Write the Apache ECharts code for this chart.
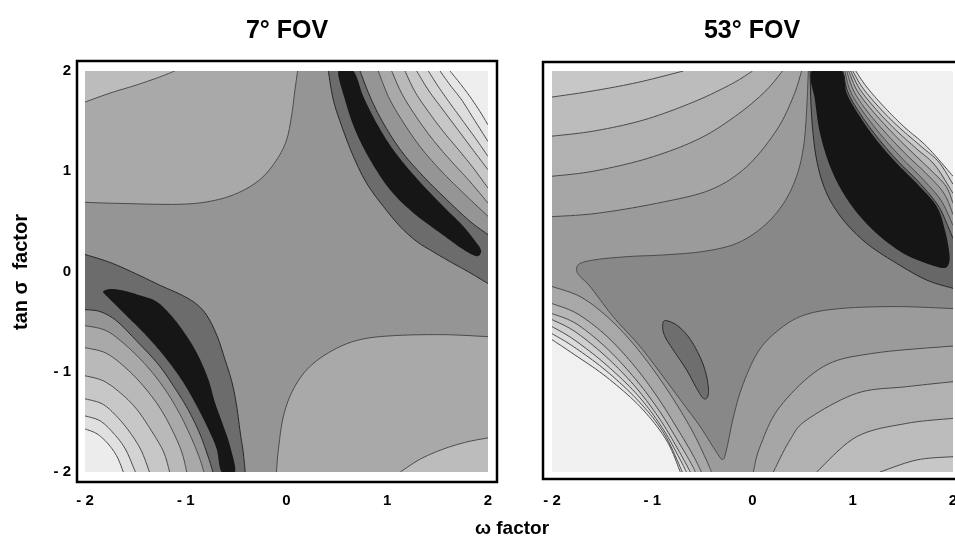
<!DOCTYPE html>
<html>
<head>
<meta charset="utf-8">
<title>7° / 53° FOV contours</title>
<script src="https://cdn.jsdelivr.net/npm/echarts@6/dist/echarts.min.js"></script>
<style>
    html, body { margin: 0; padding: 0; background: #fff; }
    #chart { width: 955px; height: 547px; }
</style>
</head>
<body>
<div id="chart"></div>
<script>
// axis ticks
var tickValues = [-2, -1, 0, 1, 2];
var tickText = ['- 2', '- 1', '0', '1', '2'];

// ---- 7° FOV: contour lines, points are [ω factor, tan σ factor]
var s7TopLeft1 = [[-2,0.69],[-1.69,0.68],[-1.09,0.67],[-0.76,0.70],[-0.49,0.78],[-0.26,0.92],[-0.10,1.11],[0.0,1.31],[0.05,1.55],[0.08,1.78],[0.11,2]];
var s7TopLeft2 = [[-2,1.69],[-1.75,1.78],[-1.49,1.86],[-1.26,1.94],[-1.11,2]];
var s7BotRight1 = [[-0.10,-2],[-0.08,-1.77],[-0.03,-1.44],[0.07,-1.17],[0.23,-0.95],[0.47,-0.78],[0.73,-0.68],[1.06,-0.64],[1.56,-0.63],[2,-0.65]];
var s7BotRight2 = [[1.13,-2],[1.33,-1.87],[1.56,-1.77],[1.79,-1.70],[2,-1.66]];
// upper right valley
var s7TrOuter = [[0.415,2],[0.465,1.71],[0.548,1.45],[0.663,1.15],[0.796,0.88],[0.961,0.65],[1.127,0.45],[1.292,0.30],[1.45,0.20],[1.62,0.10],[1.80,0.0],[2,-0.12]];
var s7TrInner = [[0.73,2],[0.829,1.745],[0.961,1.48],[1.143,1.197],[1.358,0.949],[1.59,0.717],[1.821,0.501],[2,0.368]];
var s7TrCore = [[0.515,2],[0.581,1.711],[0.68,1.413],[0.829,1.114],[1.027,0.816],[1.259,0.584],[1.524,0.385],[1.755,0.219],[1.887,0.153],[1.93,0.19],[1.921,0.235],[1.887,0.285],[1.755,0.451],[1.524,0.683],[1.275,0.949],[1.06,1.214],[0.895,1.48],[0.763,1.745],[0.663,2]];
var s7Tr1 = [[0.911,2],[1.011,1.745],[1.143,1.513],[1.325,1.247],[1.524,1.015],[1.755,0.783],[2,0.551]];
var s7Tr2 = [[1.044,2],[1.143,1.778],[1.275,1.562],[1.441,1.33],[1.623,1.114],[1.805,0.915],[2,0.683]];
var s7Tr3 = [[1.176,2],[1.275,1.794],[1.408,1.595],[1.557,1.396],[1.722,1.197],[1.854,1.032],[2,0.833]];
var s7Tr4 = [[1.292,2],[1.408,1.81],[1.54,1.63],[1.689,1.43],[1.838,1.23],[2,1.015]];
var s7Tr5 = [[1.408,2],[1.507,1.844],[1.623,1.678],[1.755,1.496],[1.887,1.313],[2,1.148]];
var s7Tr6 = [[1.524,2],[1.623,1.861],[1.739,1.711],[1.854,1.529],[2,1.297]];
var s7Tr7 = [[1.623,2],[1.722,1.877],[1.821,1.745],[1.921,1.595],[2,1.463]];
// lower left valley
var s7BlOuter = [[-2,0.17],[-1.75,0.09],[-1.5,-0.02],[-1.25,-0.14],[-1.05,-0.23],[-0.9,-0.32],[-0.79,-0.44],[-0.69,-0.64],[-0.61,-0.88],[-0.54,-1.11],[-0.495,-1.34],[-0.46,-1.6],[-0.43,-1.8],[-0.41,-2]];
var s7BlInner = [[-2,-0.38],[-1.85,-0.40],[-1.69,-0.49],[-1.49,-0.69],[-1.27,-0.93],[-1.11,-1.16],[-0.97,-1.39],[-0.86,-1.62],[-0.78,-1.84],[-0.73,-2]];
var s7BlCore = [[-1.82,-0.20],[-1.78,-0.25],[-1.72,-0.31],[-1.586,-0.444],[-1.388,-0.643],[-1.189,-0.876],[-1.024,-1.108],[-0.892,-1.34],[-0.776,-1.572],[-0.693,-1.771],[-0.644,-2],[-0.511,-2],[-0.561,-1.738],[-0.627,-1.539],[-0.71,-1.307],[-0.776,-1.075],[-0.875,-0.842],[-0.991,-0.643],[-1.14,-0.444],[-1.29,-0.30],[-1.45,-0.24],[-1.62,-0.19],[-1.75,-0.175]];
var s7Bl1 = [[-2,-0.54],[-1.79,-0.59],[-1.59,-0.74],[-1.39,-0.94],[-1.21,-1.17],[-1.06,-1.42],[-0.94,-1.67],[-0.86,-1.87],[-0.82,-2]];
var s7Bl2 = [[-2,-0.76],[-1.80,-0.81],[-1.62,-0.94],[-1.44,-1.12],[-1.27,-1.34],[-1.14,-1.57],[-1.04,-1.80],[-0.99,-2]];
var s7Bl3 = [[-2,-1.04],[-1.82,-1.09],[-1.65,-1.21],[-1.49,-1.37],[-1.34,-1.59],[-1.22,-1.80],[-1.16,-2]];
var s7Bl4 = [[-2,-1.27],[-1.83,-1.32],[-1.69,-1.44],[-1.55,-1.61],[-1.44,-1.79],[-1.36,-2]];
var s7Bl5 = [[-2,-1.44],[-1.85,-1.49],[-1.72,-1.61],[-1.60,-1.77],[-1.50,-2]];
var s7Bl6 = [[-2,-1.57],[-1.88,-1.62],[-1.77,-1.72],[-1.68,-1.85],[-1.62,-2]];

// ---- 53° FOV
var s53TopLeft1 = [[-2,1.74],[-1.6,1.80],[-1.15,1.885],[-0.69,2]];
var s53TopLeft2 = [[-2,1.35],[-1.59,1.40],[-1.09,1.51],[-0.59,1.69],[-0.21,1.87],[0.0,2]];
var s53TopLeft3 = [[-2,0.95],[-1.59,1.0],[-1.04,1.13],[-0.54,1.32],[-0.17,1.55],[0.12,1.79],[0.30,2]];
var s53TopLeft4 = [[-2,0.547],[-1.554,0.58],[-0.956,0.68],[-0.424,0.813],[-0.058,1.046],[0.241,1.411],[0.407,1.744],[0.49,2]];
var s53Star = [[2,-0.37],[1.44,-0.35],[0.87,-0.37],[0.50,-0.44],[0.24,-0.60],[0.05,-0.81],[-0.10,-1.14],[-0.19,-1.45],[-0.26,-1.78],[-0.30,-1.875],[-0.38,-1.77],[-0.52,-1.55],[-0.69,-1.32],[-0.89,-1.05],[-1.12,-0.75],[-1.39,-0.45],[-1.62,-0.15],[-1.72,-0.05],[-1.755,0.015],[-1.72,0.08],[-1.55,0.12],[-1.22,0.15],[-0.89,0.165],[-0.49,0.20],[-0.16,0.28],[0.11,0.45],[0.31,0.68],[0.44,0.95],[0.51,1.25],[0.54,1.61],[0.557,2]];
var s53BandOuter = [[0.574,2],[0.59,1.545],[0.64,1.112],[0.74,0.78],[0.906,0.514],[1.139,0.281],[1.438,0.081],[1.737,-0.085],[2,-0.168]];
var s53BandInner = [[0.90,2],[0.955,1.78],[1.09,1.55],[1.26,1.32],[1.46,1.09],[1.66,0.89],[1.85,0.66],[1.95,0.45],[2,0.33]];
var s53Core = [[0.59,2],[0.623,1.71],[0.673,1.38],[0.773,1.05],[0.906,0.78],[1.072,0.55],[1.272,0.35],[1.505,0.18],[1.737,0.08],[1.90,0.035],[1.955,0.07],[1.964,0.18],[1.92,0.41],[1.837,0.65],[1.638,0.88],[1.438,1.08],[1.239,1.31],[1.072,1.545],[0.939,1.78],[0.889,2]];
var s53Island = [[-0.873,-0.49],[-0.757,-0.534],[-0.64,-0.65],[-0.541,-0.816],[-0.474,-0.983],[-0.441,-1.149],[-0.447,-1.249],[-0.491,-1.265],[-0.557,-1.166],[-0.657,-0.983],[-0.79,-0.783],[-0.873,-0.65],[-0.896,-0.55]];
var s53Tr1 = [[0.92,2],[0.98,1.79],[1.12,1.57],[1.30,1.34],[1.50,1.12],[1.70,0.92],[1.88,0.71],[2,0.46]];
var s53Tr2 = [[0.94,2],[1.01,1.80],[1.15,1.59],[1.34,1.37],[1.54,1.16],[1.74,0.97],[1.91,0.78],[2,0.57]];
var s53Tr3 = [[0.96,2],[1.04,1.81],[1.19,1.61],[1.38,1.40],[1.58,1.20],[1.78,1.01],[1.93,0.85],[2,0.68]];
var s53Tr4 = [[0.98,2],[1.07,1.82],[1.23,1.62],[1.42,1.42],[1.63,1.23],[1.82,1.06],[2,0.78]];
var s53Tr5 = [[1.00,2],[1.10,1.83],[1.27,1.63],[1.46,1.44],[1.68,1.25],[1.86,1.09],[2,0.87]];
var s53TrWhite = [[1.03,2],[1.14,1.84],[1.31,1.645],[1.51,1.445],[1.74,1.245],[2,0.95]];
var s53Bl1 = [[-2,-0.15],[-1.72,-0.25],[-1.45,-0.45],[-1.19,-0.72],[-0.96,-1.02],[-0.76,-1.32],[-0.59,-1.61],[-0.46,-1.88],[-0.41,-2]];
var s53Bl2 = [[-2,-0.32],[-1.75,-0.42],[-1.46,-0.64],[-1.18,-0.94],[-0.95,-1.25],[-0.76,-1.55],[-0.60,-1.82],[-0.51,-2]];
var s53Bl3 = [[-2,-0.42],[-1.76,-0.52],[-1.46,-0.76],[-1.17,-1.07],[-0.93,-1.39],[-0.75,-1.68],[-0.62,-1.90],[-0.57,-2]];
var s53Bl4 = [[-2,-0.48],[-1.77,-0.60],[-1.46,-0.85],[-1.16,-1.16],[-0.92,-1.48],[-0.74,-1.78],[-0.62,-2]];
var s53Bl5 = [[-2,-0.55],[-1.78,-0.68],[-1.46,-0.93],[-1.14,-1.24],[-0.90,-1.56],[-0.73,-1.86],[-0.66,-2]];
var s53Bl6 = [[-2,-0.62],[-1.785,-0.75],[-1.46,-0.99],[-1.13,-1.30],[-0.88,-1.62],[-0.70,-2]];
var s53BlWhite = [[-2,-0.68],[-1.79,-0.82],[-1.46,-1.05],[-1.12,-1.35],[-0.86,-1.68],[-0.72,-2]];
var s53BotRight1 = [[0.008,-2],[0.075,-1.747],[0.274,-1.348],[0.706,-0.949],[1.205,-0.816],[2,-0.743]];
var s53BotRight2 = [[0.208,-2],[0.374,-1.68],[0.54,-1.481],[1.039,-1.215],[1.538,-1.149],[2,-1.099]];
var s53BotRight3 = [[0.64,-2],[1.039,-1.648],[1.538,-1.515],[2,-1.465]];
var s53BotRight4 = [[1.272,-2],[1.638,-1.88],[2,-1.847]];

// ---- drawing layers (painted in order)
var TL = [-2, 2], TR = [2, 2], BL = [-2, -2], BR = [2, -2];
var LINE = '#4a4a4a', DARK = '#262626';

function corner(a, c, color) { return {kind: 'corner', a: a, corner: c, color: color}; }
function band(a, b, color) { return {kind: 'band', a: a, b: b, color: color}; }
function loop(a, color) { return {kind: 'loop', a: a, color: color}; }
function stroke(a, color, closed) { return {kind: 'stroke', a: a, color: color, closed: !!closed}; }

var layers7 = [
    corner(s7TopLeft1, TL, '#a9a9a9'), corner(s7TopLeft2, TL, '#bcbcbc'),
    corner(s7BotRight1, BR, '#a9a9a9'), corner(s7BotRight2, BR, '#bcbcbc'),
    band(s7TrOuter, s7TrInner, '#6c6c6c'),
    corner(s7Tr1, TR, '#a9a9a9'), corner(s7Tr2, TR, '#b9b9b9'), corner(s7Tr3, TR, '#c7c7c7'),
    corner(s7Tr4, TR, '#d3d3d3'), corner(s7Tr5, TR, '#dddddd'), corner(s7Tr6, TR, '#e6e6e6'), corner(s7Tr7, TR, '#eeeeee'),
    loop(s7TrCore, '#161616'),
    band(s7BlOuter, s7BlInner, '#6c6c6c'),
    corner(s7Bl1, BL, '#a9a9a9'), corner(s7Bl2, BL, '#b9b9b9'), corner(s7Bl3, BL, '#c7c7c7'),
    corner(s7Bl4, BL, '#d3d3d3'), corner(s7Bl5, BL, '#e0e0e0'), corner(s7Bl6, BL, '#ececec'),
    loop(s7BlCore, '#161616')
];
[s7TopLeft1, s7TopLeft2, s7BotRight1, s7BotRight2, s7Tr1, s7Tr2, s7Tr3, s7Tr4, s7Tr5, s7Tr6, s7Tr7,
 s7Bl1, s7Bl2, s7Bl3, s7Bl4, s7Bl5, s7Bl6].forEach(function (l) { layers7.push(stroke(l, LINE)); });
[s7TrOuter, s7TrInner, s7BlOuter, s7BlInner].forEach(function (l) { layers7.push(stroke(l, DARK)); });

var layers53 = [
    corner(s53TopLeft4, TL, '#a6a6a6'), corner(s53TopLeft3, TL, '#b1b1b1'),
    corner(s53TopLeft2, TL, '#bcbcbc'), corner(s53TopLeft1, TL, '#c7c7c7'),
    corner(s53Bl1, BL, '#a8a8a8'), corner(s53Bl2, BL, '#b5b5b5'), corner(s53Bl3, BL, '#c2c2c2'),
    corner(s53Bl4, BL, '#cfcfcf'), corner(s53Bl5, BL, '#dbdbdb'), corner(s53Bl6, BL, '#e5e5e5'),
    corner(s53BlWhite, BL, '#f0f0f0'),
    corner(s53BotRight1, BR, '#a6a6a6'), corner(s53BotRight2, BR, '#b1b1b1'),
    corner(s53BotRight3, BR, '#bcbcbc'), corner(s53BotRight4, BR, '#c7c7c7'),
    corner(s53Star, TR, '#888888'),
    corner(s53Tr1, TR, '#9b9b9b'), corner(s53Tr2, TR, '#aaaaaa'), corner(s53Tr3, TR, '#bababa'),
    corner(s53Tr4, TR, '#cacaca'), corner(s53Tr5, TR, '#dadada'), corner(s53TrWhite, TR, '#f0f0f0'),
    band(s53BandOuter, s53BandInner, '#676767'),
    loop(s53Island, '#6e6e6e'),
    loop(s53Core, '#151515')
];
[s53TopLeft1, s53TopLeft2, s53TopLeft3, s53TopLeft4, s53Star, s53Bl1, s53Bl2, s53Bl3, s53Bl4, s53Bl5,
 s53Bl6, s53BlWhite, s53BotRight1, s53BotRight2, s53BotRight3, s53BotRight4,
 s53Tr1, s53Tr2, s53Tr3, s53Tr4, s53Tr5, s53TrWhite].forEach(function (l) { layers53.push(stroke(l, LINE)); });
layers53.push(stroke(s53BandOuter, DARK), stroke(s53BandInner, DARK), stroke(s53Island, DARK, true));

// Catmull-Rom through pixel points, so the fills and the lines share one curve
function spline(p, closed) {
    var out = [], n = p.length, seg = closed ? n : n - 1;
    for (var i = 0; i < seg; i++) {
        var p0 = p[closed ? (i - 1 + n) % n : Math.max(i - 1, 0)];
        var p1 = p[i], p2 = p[(i + 1) % n];
        var p3 = p[closed ? (i + 2) % n : Math.min(i + 2, n - 1)];
        for (var k = 0; k < 10; k++) {
            var t = k / 10, t2 = t * t, t3 = t2 * t;
            out.push([0, 1].map(function (d) {
                return 0.5 * (2 * p1[d] + (p2[d] - p0[d]) * t + (2 * p0[d] - 5 * p1[d] + 4 * p2[d] - p3[d]) * t2 +
                    (3 * p1[d] - p0[d] - 3 * p2[d] + p3[d]) * t3);
            }));
        }
    }
    if (!closed) out.push(p[n - 1]);
    return out;
}

function makeRender(layers) {
    return function (params, api) {
        var L = layers[api.value(2)];
        var px = function (p) { return api.coord(p); };
        var pts;
        if (L.kind === 'corner') {
            pts = spline(L.a.map(px), false).concat([px(L.corner)]);
        } else if (L.kind === 'band') {
            pts = spline(L.a.map(px), false).concat(spline(L.b.slice().reverse().map(px), false));
        } else {
            pts = spline(L.a.map(px), L.kind === 'loop' || L.closed);
        }
        if (L.kind === 'stroke') {
            return {
                type: L.closed ? 'polygon' : 'polyline',
                shape: {points: pts},
                style: {fill: 'none', stroke: L.color, lineWidth: 1}
            };
        }
        return {type: 'polygon', shape: {points: pts}, style: {fill: L.color, stroke: null}};
    };
}

var boldFont = "'Liberation Sans', Arial, sans-serif";
var tickFmt = function (v) { var i = tickValues.indexOf(v); return i < 0 ? '' : tickText[i]; };

var xAxisBase = {
    type: 'value', min: -2, max: 2, interval: 1,
    axisLine: {show: false}, axisTick: {show: false}, splitLine: {show: false},
    axisLabel: {margin: 21, color: '#000', fontWeight: 'bold', fontSize: 15, fontFamily: boldFont, formatter: tickFmt}
};

var chart = echarts.init(document.getElementById('chart'));
var option = {
    animation: false,
    backgroundColor: '#fff',
    grid: [
        {left: 85, top: 71, width: 403, height: 401, show: true, backgroundColor: '#959595', borderWidth: 0, outerBoundsMode: 'none'},
        {left: 552, top: 71, width: 401, height: 401, show: true, backgroundColor: '#9b9b9b', borderWidth: 0, outerBoundsMode: 'none'}
    ],
    xAxis: [
        Object.assign({gridIndex: 0}, xAxisBase),
        Object.assign({gridIndex: 1}, xAxisBase)
    ],
    yAxis: [
        {
            gridIndex: 0, type: 'value', min: -2, max: 2, interval: 1,
            axisLine: {show: false}, axisTick: {show: false}, splitLine: {show: false},
            axisLabel: {margin: 14, color: '#000', fontWeight: 'bold', fontSize: 15, fontFamily: boldFont, formatter: tickFmt}
        },
        {
            gridIndex: 1, type: 'value', min: -2, max: 2, interval: 1,
            axisLine: {show: false}, axisTick: {show: false}, splitLine: {show: false},
            axisLabel: {show: false}
        }
    ],
    series: [
        {
            type: 'custom', xAxisIndex: 0, yAxisIndex: 0, clip: true, silent: true,
            renderItem: makeRender(layers7),
            data: layers7.map(function (l, i) { return [0, 0, i]; })
        },
        {
            type: 'custom', xAxisIndex: 1, yAxisIndex: 1, clip: true, silent: true,
            renderItem: makeRender(layers53),
            data: layers53.map(function (l, i) { return [0, 0, i]; })
        }
    ],
    graphic: [
        {type: 'rect', shape: {x: 77, y: 61, width: 420, height: 421}, style: {fill: 'none', stroke: '#000', lineWidth: 2.5}},
        {type: 'rect', shape: {x: 543, y: 62, width: 430, height: 417}, style: {fill: 'none', stroke: '#000', lineWidth: 2.5}},
        {type: 'text', x: 287, y: 31, style: {text: '7° FOV', font: "bold 25px " + boldFont, fill: '#000', textAlign: 'center', textVerticalAlign: 'middle'}},
        {type: 'text', x: 752, y: 31, style: {text: '53° FOV', font: "bold 25px " + boldFont, fill: '#000', textAlign: 'center', textVerticalAlign: 'middle'}},
        {type: 'text', x: 512, y: 529, style: {text: 'ω factor', font: "bold 19px " + boldFont, fill: '#000', textAlign: 'center', textVerticalAlign: 'middle'}},
        {type: 'text', x: 21, y: 272, rotation: Math.PI / 2, style: {text: 'tan σ  factor', font: "bold 20px " + boldFont, fill: '#000', textAlign: 'center', textVerticalAlign: 'middle'}}
    ]
};
chart.setOption(option);
</script>
</body>
</html>
